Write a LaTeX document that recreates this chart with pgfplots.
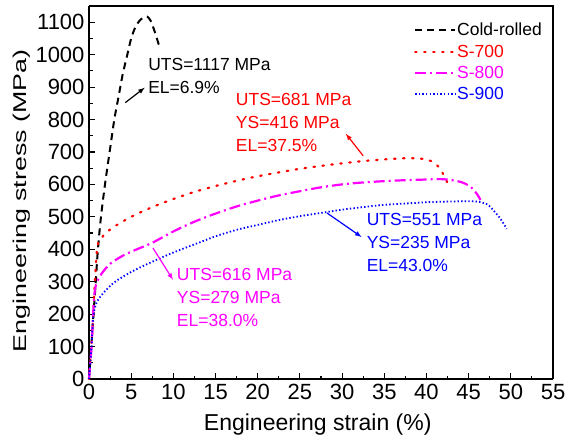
\documentclass[border=0pt]{standalone}
\usepackage{fontspec}
\setmainfont{Liberation Sans}
\newfontfamily\ylabfont[FakeStretch=1.45]{Liberation Sans}
\usepackage{pgfplots}
\pgfplotsset{compat=1.18}
\definecolor{magentac}{RGB}{255,0,255}
\begin{document}
\begin{tikzpicture}
\begin{axis}[
  scale only axis,
  width=464pt, height=373pt,
  xmin=0, xmax=55, ymin=0, ymax=1150,
  xtick={0,5,...,55}, ytick={0,100,...,1100},
  minor x tick num=1, minor y tick num=1,
  tick align=inside,
  axis x line*=bottom, axis y line*=left,
  axis line style={line width=1.3pt},
  major tick length=6pt, minor tick length=3.5pt,
  every tick/.style={black, line width=1.1pt},
  /pgf/number format/assume math mode=true,
  /pgf/number format/1000 sep={},
  ticklabel style={font=\fontsize{22}{24}\selectfont},
  xticklabel style={yshift=-2pt},
  yticklabel style={xshift=-1pt},
  xlabel={Engineering strain (\%)},
  ylabel={Engineering stress (MPa)},
  xlabel style={font=\fontsize{23}{25}\selectfont, at={(rel axis cs:0.493,0)},
    anchor=base, inner sep=0pt, yshift=-51pt},
  ylabel style={font=\ylabfont\fontsize{18.5}{20}\selectfont, at={(rel axis cs:0,0.478)},
    anchor=south, inner sep=0pt, yshift=58pt},
  legend style={draw=none, fill=none, at={(rel axis cs:0.700,0.957)}, anchor=north west,
    inner sep=0pt, font=\fontsize{17.5}{19}\selectfont, row sep=5.5pt,
    nodes={inner sep=1pt}},
  legend cell align=left,
  legend image code/.code={\draw[#1] (0pt,0pt) -- (40pt,0pt);},
  clip=false,
]
\coordinate (bl) at (rel axis cs:0,0);
\coordinate (tr) at (rel axis cs:1,1);
\draw[line width=1.3pt] (rel axis cs:0,1) -- (rel axis cs:1,1) -- (rel axis cs:1,0);

\addplot[black, line width=2pt, dash pattern=on 7pt off 5pt, smooth] coordinates {
 (0,0)(0.4,150)(0.8,300)(1.0,380)(1.3,470)(1.6,540)(2.0,620)(2.5,710)(3.0,800)
 (3.5,870)(4.0,940)(4.5,995)(5.0,1050)(5.5,1085)(6.0,1105)(6.5,1115)(6.9,1117)
 (7.3,1105)(7.8,1070)(8.4,1020)};
\addlegendentry{\textcolor{black}{Cold-rolled}}

\addplot[red, line width=2.2pt, dash pattern=on 1.5pt off 7.5pt, line cap=round, smooth] coordinates {
 (0,0)(0.4,150)(0.7,300)(1.0,410)(1.5,435)(2,450)(3,470)(5,500)(7.5,530)(10,555)
 (12.5,577)(15,595)(17.5,611)(20,625)(22.5,637)(25,648)(27.5,657)(30,665)(32.5,672)
 (35,677)(38,681)(40,677)(41,665)(41.7,645)(42.3,615)(42.6,600)};
\addlegendentry{\textcolor{red}{S-700}}

\addplot[magentac, line width=2.2pt, dash pattern=on 11pt off 4pt on 2pt off 4pt, smooth] coordinates {
 (0,0)(0.3,100)(0.6,250)(0.9,296)(1.5,325)(2.5,355)(4,380)(5.5,398)(7.5,420)
 (10,455)(12.5,485)(15,510)(17.5,532)(20,550)(22.5,566)(25,579)(27.5,591)(30,600)
 (32.5,606)(35,610)(37.5,613)(40,615)(42,616)(44,608)(45.2,593)(46,570)(46.4,552)};
\addlegendentry{\textcolor{magentac}{S-800}}

\addplot[blue, line width=1.8pt, dash pattern=on 1.4pt off 2.2pt, smooth] coordinates {
 (0,0)(0.3,99)(0.5,191)(0.9,235)(1.7,265)(3,298)(5,330)(7.2,358)(10,390)(13,420)
 (15,440)(17.5,460)(20,475)(22.5,490)(25,502)(27.5,512)(30,522)(32.5,530)(35,537)
 (37.5,541)(40,545)(42.5,547)(45,548)(46.3,546)(47.3,537)(47.9,521)(48.6,500)
 (49.1,481)(49.5,463)};
\addlegendentry{\textcolor{blue}{S-900}}

% annotations
\begin{scope}[font=\fontsize{17.5}{23}\selectfont]
\node[anchor=west, align=left, text=black, inner sep=0pt] at (axis cs:7.0,934)
  {UTS=1117 MPa\\EL=6.9\%};
\draw[-latex, line width=1.2pt] (axis cs:4.3,852) -- (axis cs:6.6,898);

\node[anchor=west, align=left, text=red, inner sep=0pt] at (axis cs:17.4,790)
  {UTS=681 MPa\\YS=416 MPa\\EL=37.5\%};
\draw[-latex, red, line width=1.2pt] (axis cs:32.5,688) -- (axis cs:30.45,756);

\node[anchor=west, align=left, text=magentac, inner sep=0pt] at (axis cs:10.4,250)
  {UTS=616 MPa\\YS=279 MPa\\EL=38.0\%};
\draw[-latex, magentac, line width=1.2pt] (axis cs:7.58,404) -- (axis cs:9.95,306);

\node[anchor=west, align=left, text=blue, inner sep=0pt] at (axis cs:32.9,420)
  {UTS=551 MPa\\YS=235 MPa\\EL=43.0\%};
\draw[-latex, blue, line width=1.2pt] (axis cs:28.2,512) -- (axis cs:32.3,438);
\end{scope}
\end{axis}
\pgfresetboundingbox
\path[use as bounding box] ([shift={(-89pt,-60pt)}]bl) rectangle ([shift={(13pt,6pt)}]tr);
\end{tikzpicture}
\end{document}
